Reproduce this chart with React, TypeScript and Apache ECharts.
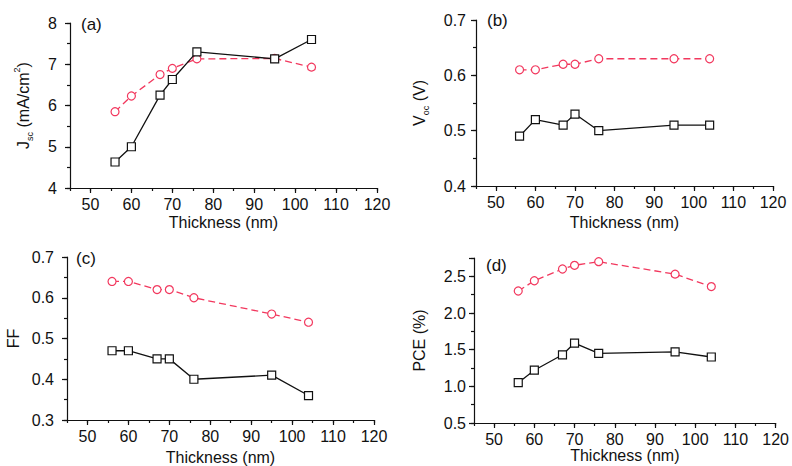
import React, { useEffect, useRef } from "react";
import * as echarts from "echarts";

const thickness = [56, 60, 67, 70, 76, 95, 104];
const jscBlack = [4.63, 5.0, 6.25, 6.63, 7.3, 7.13, 7.6];
const jscRed = [5.85, 6.23, 6.75, 6.9, 7.13, 7.14, 6.93];
const vocBlack = [0.49, 0.52, 0.51, 0.53, 0.5, 0.51, 0.51];
const vocRed = [0.61, 0.61, 0.62, 0.62, 0.63, 0.63, 0.63];
const ffBlack = [0.47, 0.47, 0.45, 0.45, 0.4, 0.41, 0.36];
const ffRed = [0.64, 0.64, 0.62, 0.62, 0.6, 0.56, 0.54];
const pceBlack = [1.05, 1.22, 1.43, 1.59, 1.45, 1.47, 1.4];
const pceRed = [2.3, 2.44, 2.6, 2.65, 2.7, 2.53, 2.36];

const xMin = 45;
const xMax = 120;
const xLabelStep = 10;

const panelTags = ["(a)", "(b)", "(c)", "(d)"];
const xTitle = "Thickness (nm)";

const FONT = "'Liberation Sans', Arial, Helvetica, sans-serif";
const TXT = "#111";
const RED = "#f2385e";
const FS = 16;

const panels = [
  {
    black: jscBlack, red: jscRed, yMin: 4, yMax: 8, yStep: 1, yMinor: 0.5, dec: 0,
    name: "{n|J}{sub|sc}{n| (mA/cm}{sup|2}{n|)}", nameGap: 36,
    grid: { left: 70, top: 23, width: 307, height: 165 }, xNameGap: 26, yLabelMargin: 13,
    tag: { x: 81, y: 16 },
  },
  {
    black: vocBlack, red: vocRed, yMin: 0.4, yMax: 0.7, yStep: 0.1, yMinor: 0.05, dec: 1,
    name: "{n|V}{sub|oc}{n| (V)}", nameGap: 46,
    grid: { left: 476, top: 20, width: 297, height: 166 }, xNameGap: 28, yLabelMargin: 10,
    tag: { x: 487, y: 12 },
  },
  {
    black: ffBlack, red: ffRed, yMin: 0.3, yMax: 0.7, yStep: 0.1, yMinor: 0.05, dec: 1,
    name: "{n|FF}", nameGap: 43,
    grid: { left: 67, top: 257, width: 307, height: 165 }, xNameGap: 29, yLabelMargin: 13,
    tag: { x: 76, y: 250 },
  },
  {
    black: pceBlack, red: pceRed, yMin: 0.5, yMax: 2.75, yStep: 0.5, yMinor: 0.25, dec: 1,
    name: "{n|PCE (%)}", nameGap: 44,
    grid: { left: 474, top: 258, width: 304, height: 165 }, xNameGap: 17, yLabelMargin: 8,
    tag: { x: 486, y: 257 },
  },
];

function buildOption() {
  const grid: any[] = [];
  const xAxis: any[] = [];
  const yAxis: any[] = [];
  const series: any[] = [];
  const title: any[] = [];
  const rich = {
    n: { fontSize: FS, fontFamily: FONT, color: TXT, lineHeight: 22, verticalAlign: "middle" },
    sub: { fontSize: 9, fontFamily: FONT, color: TXT, lineHeight: 9, verticalAlign: "bottom" },
    sup: { fontSize: 9, fontFamily: FONT, color: TXT, lineHeight: 9, verticalAlign: "top" },
  };
  panels.forEach((p, i) => {
    grid.push({ ...p.grid, containLabel: false });
    xAxis.push({
      type: "value", gridIndex: i, position: "bottom", min: xMin, max: xMax, splitNumber: 7,
      axisLine: { show: true, onZero: false, lineStyle: { color: "#111", width: 1.2 } },
      axisTick: { show: true, inside: false, length: 5, lineStyle: { color: "#111", width: 1.2 } },
      axisLabel: {
        show: true, margin: 8, fontSize: FS, fontFamily: FONT, color: TXT,
        formatter: (v: number) => (Math.abs(v % xLabelStep) < 1e-6 ? String(v) : ""),
        showMinLabel: false,
      },
      splitLine: { show: false },
      name: xTitle, nameLocation: "middle", nameGap: p.xNameGap,
      nameTextStyle: { fontSize: FS, fontFamily: FONT, color: TXT },
    });
    xAxis.push({
      type: "value", gridIndex: i, position: "bottom", min: xMin, max: xMax, interval: 5,
      axisLine: { show: false, onZero: false },
      axisTick: { show: true, length: 3, lineStyle: { color: "#111", width: 1.2 } },
      axisLabel: { show: false },
      splitLine: { show: false },
    });
    yAxis.push({
      type: "value", gridIndex: i, position: "left", min: p.yMin, max: p.yMax, interval: p.yStep,
      axisLine: { show: true, onZero: false, lineStyle: { color: "#111", width: 1.2 } },
      axisTick: { show: true, length: 5, lineStyle: { color: "#111", width: 1.2 } },
      axisLabel: {
        show: true, margin: p.yLabelMargin, fontSize: FS, fontFamily: FONT, color: TXT,
        formatter: (v: number) => {
          const k = (v - p.yMin) / p.yStep;
          return Math.abs(k - Math.round(k)) < 1e-6 ? v.toFixed(p.dec) : "";
        },
      },
      splitLine: { show: false },
      name: p.name, nameLocation: "middle", nameGap: p.nameGap, nameRotate: 90,
      nameTextStyle: { rich },
    });
    yAxis.push({
      type: "value", gridIndex: i, position: "left", min: p.yMin, max: p.yMax, interval: p.yMinor,
      axisLine: { show: false, onZero: false },
      axisTick: { show: true, length: 3, lineStyle: { color: "#111", width: 1.2 } },
      axisLabel: { show: false },
      splitLine: { show: false },
    });
    series.push({
      type: "line", xAxisIndex: 2 * i, yAxisIndex: 2 * i,
      data: thickness.map((t, k) => [t, p.black[k]]),
      symbol: "rect", symbolSize: 8, showSymbol: true,
      lineStyle: { color: "#111", width: 1.3, type: "solid" },
      itemStyle: { color: "#fff", borderColor: "#111", borderWidth: 1.2 },
      z: 3,
    });
    series.push({
      type: "line", xAxisIndex: 2 * i, yAxisIndex: 2 * i,
      data: thickness.map((t, k) => [t, p.red[k]]),
      symbol: "circle", symbolSize: 8, showSymbol: true,
      lineStyle: { color: RED, width: 1.3, type: [7, 4] },
      itemStyle: { color: "#fff", borderColor: RED, borderWidth: 1.2 },
      z: 2,
    });
    title.push({
      text: panelTags[i], left: p.tag.x, top: p.tag.y, padding: 0,
      textStyle: { fontSize: 17, fontWeight: "normal", fontFamily: FONT, color: TXT },
    });
  });
  return {
    animation: false,
    backgroundColor: "#fff",
    title, grid, xAxis, yAxis, series,
  };
}

export default function App() {
  const ref = useRef<HTMLDivElement>(null);
  useEffect(() => {
    if (!ref.current) return;
    const chart = echarts.init(ref.current, undefined, { renderer: "svg" });
    chart.setOption(buildOption() as any);
    return () => chart.dispose();
  }, []);
  return (
    <div
      ref={ref}
      style={{ position: "fixed", left: 0, top: 0, width: 792, height: 466, background: "#fff" }}
    />
  );
}
